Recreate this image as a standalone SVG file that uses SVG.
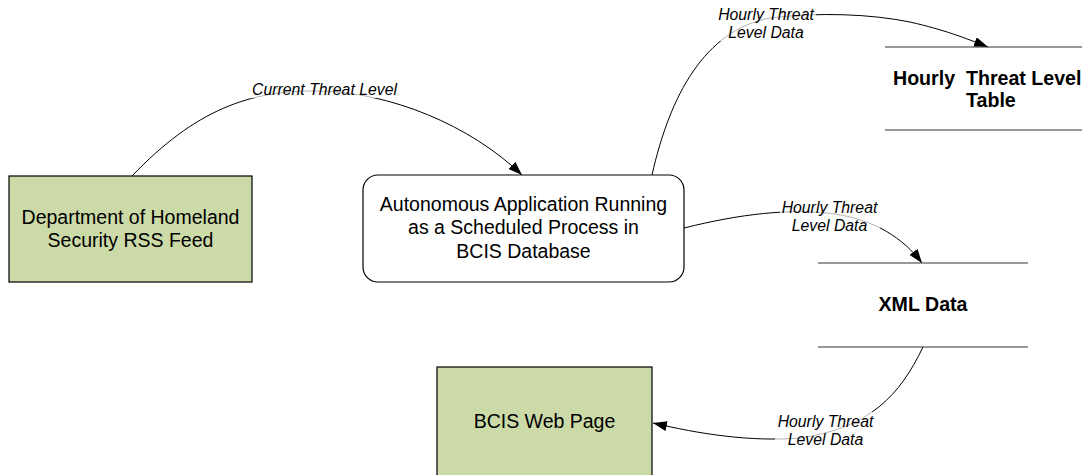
<svg xmlns="http://www.w3.org/2000/svg" width="1082" height="475" viewBox="0 0 1082 475">
<style>
.box{fill:#CCDAA8;stroke:#000;stroke-width:1.2}
.proc{fill:#fff;stroke:#000;stroke-width:1.2}
.store{stroke:#333;stroke-width:1.2}
.t{font-family:"Liberation Sans",Arial,sans-serif;font-size:19.5px;fill:#000;text-anchor:middle}
.b{font-family:"Liberation Sans",Arial,sans-serif;font-size:19.6px;font-weight:bold;fill:#000}
.lbl{font-family:"Liberation Sans",Arial,sans-serif;font-size:15.8px;font-style:italic;fill:#000;text-anchor:middle}
.lb{fill:#fff;fill-opacity:0.7}
.c{fill:none;stroke:#000;stroke-width:1}
</style>
<defs>
<marker id="arr" viewBox="0 0 14 10" refX="14" refY="5" markerWidth="14" markerHeight="10" markerUnits="userSpaceOnUse" orient="auto">
<path d="M0,0 L14,5 L0,10 Z" fill="#000"/>
</marker>
</defs>
<rect width="1082" height="475" fill="#fff"/>
<g id="connectors">
<path class="c" d="M132,176 C195,110 250,90 318,91 C390,92 470,125 522,175" marker-end="url(#arr)"/>
<path class="c" d="M652,175 C670,95 705,30 770,18 C820,12 870,14 910,22 C945,30 965,38 988,47" marker-end="url(#arr)"/>
<path class="c" d="M684,228 C740,214 790,208 835,214 C875,220 903,238 922,263" marker-end="url(#arr)"/>
<path class="c" d="M923,347 C900,395 870,428 800,438 C750,442 700,434 653,423" marker-end="url(#arr)"/>
</g>
<g id="labels">
<rect class="lb" x="250" y="80" width="150" height="18"/>
<text class="lbl" x="324.5" y="95">Current Threat Level</text>
<rect class="lb" x="716" y="4" width="100" height="37"/>
<text class="lbl" x="766" y="20">Hourly Threat</text>
<text class="lbl" x="766" y="38">Level Data</text>
<rect class="lb" x="780" y="198" width="100" height="36"/>
<text class="lbl" x="829.5" y="213">Hourly Threat</text>
<text class="lbl" x="829.5" y="231">Level Data</text>
<rect class="lb" x="775" y="412" width="102" height="36"/>
<text class="lbl" x="825.5" y="427">Hourly Threat</text>
<text class="lbl" x="825.5" y="445">Level Data</text>
</g>
<g id="dhs">
<rect class="box" x="9" y="176" width="243" height="106"/>
<text class="t" x="130.5" y="224">Department of Homeland</text>
<text class="t" x="130.5" y="247">Security RSS Feed</text>
</g>
<g id="process">
<rect class="proc" x="363" y="175" width="321" height="107" rx="15" ry="15"/>
<text class="t" x="523.5" y="211">Autonomous Application Running</text>
<text class="t" x="523.5" y="234">as a Scheduled Process in</text>
<text class="t" x="523.5" y="258">BCIS Database</text>
</g>
<g id="hourly-table">
<line class="store" x1="885" y1="47" x2="1082" y2="47"/>
<line class="store" x1="885" y1="130" x2="1082" y2="130"/>
<text class="b" x="893" y="85" xml:space="preserve">Hourly  Threat Level</text>
<text class="b" x="966" y="107">Table</text>
</g>
<g id="xml-data">
<line class="store" x1="818" y1="263" x2="1028" y2="263"/>
<line class="store" x1="818" y1="347" x2="1028" y2="347"/>
<text class="b" x="923" y="311" text-anchor="middle">XML Data</text>
</g>
<g id="web-page">
<rect class="box" x="437" y="367" width="215" height="112"/>
<text class="t" x="544.5" y="428">BCIS Web Page</text>
</g>
</svg>
